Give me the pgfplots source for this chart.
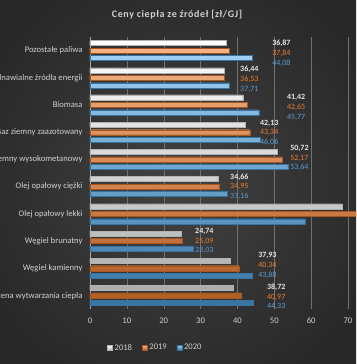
\documentclass[border=0pt]{standalone}
\usepackage{pgfplots}
\pgfplotsset{compat=1.18}
\usepackage{fontspec}
\setmainfont{Carlito}
\definecolor{bgc}{HTML}{424242}
\definecolor{bge}{HTML}{282828}
\definecolor{txt}{HTML}{D0D0D0}
\definecolor{c18}{HTML}{E6E6E6}
\definecolor{c19}{HTML}{ED7D31}
\definecolor{c20}{HTML}{4FA6E6}
\definecolor{l20}{HTML}{5B9BD5}
\newcommand{\lbl}[6]{\node[anchor=west,align=left,inner sep=0pt,font=\fontsize{8}{9.8}\selectfont] at (axis cs:#1,#2) [yshift=#3] {\textcolor{c18}{\textbf{#4}}\\\textcolor{c19}{#5}\\\textcolor{l20}{#6}};}
\begin{document}
\begin{tikzpicture}
\useasboundingbox (0,0) rectangle (356pt,-364pt);
\clip (0,0) rectangle (356pt,-364pt);
\shade[inner color=bgc, outer color=bge] (-40pt,40pt) rectangle (396pt,-404pt);
\node[font=\fontsize{10}{12}\selectfont\bfseries\addfontfeatures{LetterSpace=6}, text=txt] at (177pt,-15pt) {Ceny ciepła ze źródeł [zł/GJ]};
\begin{axis}[
  at={(90pt,-309pt)}, anchor=south west,
  scale only axis, width=267.2pt, height=272pt,
  xbar, bar width=5pt,
  xmin=0, xmax=72.5, ymin=-0.5, ymax=9.5,
  axis x line*=bottom, axis y line*=left,
  x axis line style={draw=none},
  y axis line style={draw=gray!70, line width=0.6pt},
  xtick={0,10,...,70},
  ytick={0,...,9},
  yticklabels={Średnia cena wytwarzania ciepła, Węgiel kamienny, Węgiel brunatny, Olej opałowy lekki, Olej opałowy ciężki, Gaz ziemny wysokometanowy, Gaz ziemny zaazotowany, Biomasa, Odnawialne źródła energii, Pozostałe paliwa},
  major tick length=0pt,
  xmajorgrids, grid style={draw=white!25!bgc, line width=0.4pt},
  tick label style={font=\fontsize{8.6}{9}\selectfont, text=txt},
  /pgf/number format/assume math mode=true,
  yticklabel style={xshift=-4pt},
  xticklabel style={yshift=-5pt},
  legend style={at={(0.245,-0.143)}, anchor=center, draw=none, fill=none, text=txt, font=\fontsize{8.6}{9}\selectfont, legend columns=3, /tikz/every even column/.append style={column sep=8pt}},
  legend image code/.code={\path[#1] (0pt,-2.5pt) rectangle (5pt,2.5pt);},
  clip=true,
]
\addplot[bar shift=7.5pt, draw=gray!60, line width=0.3pt, fill=c18, top color=white, bottom color=gray!65] coordinates {
(38.72,0) (37.93,1) (24.74,2) (68.45,3) (34.66,4) (50.72,5) (42.13,6) (41.42,7) (36.44,8) (36.87,9)};
\addplot[bar shift=0pt, draw=c19!70!black, line width=0.3pt, fill=c19, top color=c19!60!white, bottom color=c19!75!black] coordinates {
(40.97,0) (40.34,1) (25.09,2) (75.0,3) (34.95,4) (52.17,5) (43.34,6) (42.65,7) (36.53,8) (37.84,9)};
\addplot[bar shift=-7.5pt, draw=c20!70!black, line width=0.3pt, fill=c20, top color=c20!55!white, bottom color=c20!70!black] coordinates {
(44.33,0) (43.88,1) (28.03,2) (58.33,3) (37.16,4) (53.64,5) (46.06,6) (45.77,7) (37.71,8) (44.08,9)};
\legend{2018,2019,2020}
\lbl{49.4}{9}{-2.5pt}{36,87}{37,84}{44,08}
\lbl{40.7}{8}{-1.5pt}{36,44}{36,53}{37,71}
\lbl{53.4}{7}{-2.5pt}{41,42}{42,65}{45,77}
\lbl{46.1}{6}{-0.5pt}{42,13}{43,34}{46,06}
\lbl{54.3}{5}{1.5pt}{50,72}{52,17}{53,64}
\lbl{38.0}{4}{0pt}{34,66}{34,95}{37,16}
\lbl{28.5}{2}{0pt}{24,74}{25,09}{28,03}
\lbl{45.6}{1}{3pt}{37,93}{40,34}{43,88}
\lbl{48.0}{0}{-1.5pt}{38,72}{40,97}{44,33}
\end{axis}
\end{tikzpicture}
\end{document}
